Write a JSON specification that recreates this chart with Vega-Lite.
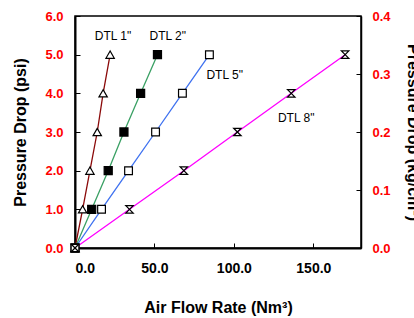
{
  "$schema": "https://vega.github.io/schema/vega-lite/v6.json",
  "width": 286,
  "height": 232,
  "autosize": {"type": "none"},
  "padding": {"left": 75, "top": 16, "right": 53, "bottom": 70},
  "background": "white",
  "config": {
    "font": "Liberation Sans",
    "view": {"stroke": "black", "strokeWidth": 1.5},
    "axis": {"grid": false, "domainColor": "black", "tickColor": "black", "titleFont": "Liberation Sans", "labelFont": "Liberation Sans"}
  },
  "datasets": {
    "pts": [
      {"series": "DTL 1\"", "x": 0, "y": 0},
      {"series": "DTL 1\"", "x": 4.8, "y": 1},
      {"series": "DTL 1\"", "x": 9.4, "y": 2},
      {"series": "DTL 1\"", "x": 14.0, "y": 3},
      {"series": "DTL 1\"", "x": 17.7, "y": 4},
      {"series": "DTL 1\"", "x": 22.1, "y": 5},
      {"series": "DTL 2\"", "x": 0, "y": 0},
      {"series": "DTL 2\"", "x": 10.5, "y": 1},
      {"series": "DTL 2\"", "x": 20.9, "y": 2},
      {"series": "DTL 2\"", "x": 30.8, "y": 3},
      {"series": "DTL 2\"", "x": 41.3, "y": 4},
      {"series": "DTL 2\"", "x": 51.9, "y": 5},
      {"series": "DTL 5\"", "x": 0, "y": 0},
      {"series": "DTL 5\"", "x": 16.7, "y": 1},
      {"series": "DTL 5\"", "x": 33.7, "y": 2},
      {"series": "DTL 5\"", "x": 50.7, "y": 3},
      {"series": "DTL 5\"", "x": 67.6, "y": 4},
      {"series": "DTL 5\"", "x": 84.6, "y": 5},
      {"series": "DTL 8\"", "x": 0, "y": 0},
      {"series": "DTL 8\"", "x": 34.3, "y": 1},
      {"series": "DTL 8\"", "x": 68.5, "y": 2},
      {"series": "DTL 8\"", "x": 102.2, "y": 3},
      {"series": "DTL 8\"", "x": 136.1, "y": 4},
      {"series": "DTL 8\"", "x": 170.0, "y": 5}
    ],
    "labels": [
      {"label": "DTL 1\"", "x": 23.9, "y": 5.48},
      {"label": "DTL 2\"", "x": 58.4, "y": 5.48},
      {"label": "DTL 5\"", "x": 94.2, "y": 4.47},
      {"label": "DTL 8\"", "x": 139.2, "y": 3.35}
    ]
  },
  "layer": [
    {
      "encoding": {
        "x": {
          "field": "x", "type": "quantitative",
          "scale": {"domain": [0, 180], "nice": false, "zero": true},
          "axis": {
            "values": [0, 50, 100, 150], "format": ".1f",
            "title": "Air Flow Rate (Nm³)",
            "labelFontSize": 14, "labelFontWeight": "bold", "labelColor": "black",
            "titleFontSize": 16, "titleFontWeight": "bold", "titleColor": "black",
            "tickSize": -5, "labelPadding": 18, "titlePadding": 24,
            "domainWidth": 2
          }
        },
        "y": {
          "field": "y", "type": "quantitative",
          "scale": {"domain": [0, 6], "nice": false},
          "axis": {
            "values": [0, 1, 2, 3, 4, 5, 6], "format": ".1f",
            "title": "Pressure Drop (psi)",
            "labelFontSize": 13, "labelFontWeight": "bold", "labelColor": "#ff0000",
            "titleFontSize": 16, "titleFontWeight": "bold", "titleColor": "black",
            "tickSize": -5, "labelPadding": 17, "titlePadding": 16,
            "domainWidth": 2
          }
        }
      },
      "layer": [
        {
          "data": {"name": "pts"},
          "mark": {"type": "line", "strokeWidth": 1.3},
          "encoding": {
            "detail": {"field": "series"},
            "color": {
              "field": "series", "type": "nominal", "legend": null,
              "scale": {"domain": ["DTL 1\"", "DTL 2\"", "DTL 5\"", "DTL 8\""], "range": ["#8b0a0a", "#3aa064", "#3f72f0", "#ff00ff"]}
            }
          }
        },
        {
          "data": {"name": "pts"},
          "mark": {"type": "point", "stroke": "black", "strokeWidth": 1.2, "opacity": 1, "filled": false},
          "encoding": {
            "shape": {
              "field": "series", "type": "nominal", "legend": null,
              "scale": {"domain": ["DTL 1\"", "DTL 2\"", "DTL 5\"", "DTL 8\""], "range": ["triangle-up", "square", "square", "M-1,-1L1,-1L-1,1L1,1Z"]}
            },
            "fill": {
              "field": "series", "type": "nominal", "legend": null,
              "scale": {"domain": ["DTL 1\"", "DTL 2\"", "DTL 5\"", "DTL 8\""], "range": ["white", "black", "white", "transparent"]}
            },
            "size": {
              "field": "series", "type": "nominal", "legend": null,
              "scale": {"domain": ["DTL 1\"", "DTL 2\"", "DTL 5\"", "DTL 8\""], "range": [70, 55, 55, 14]}
            }
          }
        },
        {
          "data": {"name": "labels"},
          "mark": {"type": "text", "fontSize": 12, "font": "Liberation Sans", "color": "black"},
          "encoding": {"text": {"field": "label"}}
        }
      ]
    },
    {
      "data": {"values": [{"v": 0}]},
      "mark": {"type": "point", "opacity": 0},
      "encoding": {
        "y": {
          "field": "v", "type": "quantitative",
          "scale": {"domain": [0, 0.4], "nice": false},
          "axis": {
            "orient": "right", "values": [0, 0.1, 0.2, 0.3, 0.4], "format": ".1f",
            "title": "Pressure Drop (kg/cm²)",
            "labelFontSize": 13, "labelFontWeight": "bold", "labelColor": "#ff0000",
            "titleFontSize": 16, "titleFontWeight": "bold", "titleColor": "black",
            "tickSize": -5, "labelPadding": 16, "titlePadding": 14,
            "domainWidth": 1.5
          }
        }
      }
    }
  ],
  "resolve": {"scale": {"y": "independent"}}
}
